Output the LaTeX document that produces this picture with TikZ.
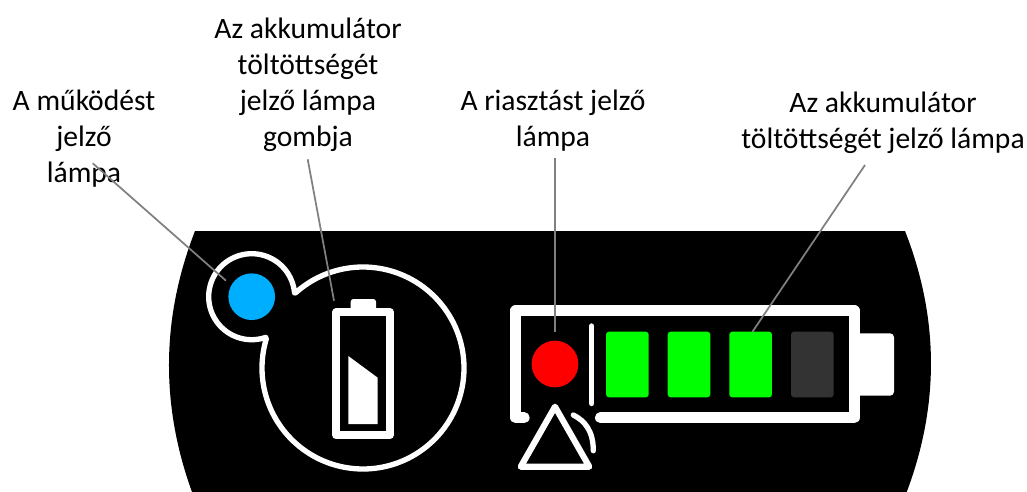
\documentclass[tikz,border=0pt]{standalone}
\usepackage{fontspec}
\setmainfont{Carlito}
\definecolor{leader}{HTML}{808080}
\definecolor{lampblue}{HTML}{00AEFF}
\definecolor{lampgreen}{HTML}{00FF00}
\definecolor{lampoff}{HTML}{333333}
\tikzset{
  lbl/.style={inner sep=0pt,outer sep=0pt,align=center,anchor=north,font=\fontsize{22.2}{27}\selectfont,text=black},
  leaderline/.style={draw=leader,line width=1.3pt},
  outline/.style={draw=white,line width=4pt,line cap=round,line join=round},
  seg/.style={rounded corners=2.2pt}
}
\begin{document}
\begin{tikzpicture}[x=.75pt,y=.75pt,yscale=-1]
\useasboundingbox (0,0) rectangle (1027,492);
\fill[white] (0,0) rectangle (1027,492);
% body
\fill[black] (195,231) .. controls (161.3,317.7) and (160.4,404.7) .. (192,492) -- (906.7,492)
  .. controls (939.6,404.7) and (939,317.7) .. (905,231) -- cycle;
% button outline
\draw[outline]
  plot[domain=-289:-5,samples=120] ({251.7+43*cos(\x)},{296.7+43*sin(\x)})
  -- plot[domain=-131.8:196.6,samples=200] ({363+101*cos(\x)},{368+101*sin(\x)}) -- cycle;
\node[circle,fill=lampblue,minimum size=35pt,inner sep=0pt] (blue) at (251.7,296.7) {};
% battery icon
\draw[outline,line width=5.8pt] (336.3,312) rectangle (389.7,435.3);
\fill[white,rounded corners=2pt] (350.7,312) -- (350.7,299) -- (376,299) -- (376,312) -- cycle;
\fill[white] (348.3,356) -- (377.7,377.7) -- (377.7,424) -- (348.3,424) -- cycle;
% big battery
\fill[white,rounded corners=3pt] (850,333.3) -- (894,333.3) -- (894,395.7) -- (850,395.7) -- cycle;
\draw[outline,line width=8pt] (524.3,417.7) -- (515.7,417.7) -- (515.7,310.7) -- (854.3,310.7) -- (854.3,417.7) -- (600.3,417.7);
\draw[outline] (591.7,326) -- (591.7,403.5);
\node[circle,fill=red,minimum size=35pt,inner sep=0pt] (red) at (555,364) {};
\fill[lampgreen,seg] (606,331.7) rectangle (648.7,397.3);
\fill[lampgreen,seg] (667.7,331.7) rectangle (710.3,397.3);
\node[fill=lampgreen,rounded corners=2.2pt,minimum width=32pt,minimum height=49.2pt,inner sep=0pt,outer sep=0pt] (green) at (750.65,364.5) {};
\fill[lampoff,seg] (791,331.7) rectangle (833.7,397.3);
% alarm triangle
\draw[outline,line width=4.6pt] (555,406.7) -- (589.3,466.7) -- (520.7,466.7) -- cycle;
\draw[outline] (573.3,415) .. controls (585,421) and (593.3,431) .. (593.3,450.7);
% labels
\node[lbl] (l1) at (84,90) {A működést\\jelző\\lámpa};
\node[lbl] (l2) at (308,18) {Az akkumulátor\\töltöttségét\\jelző lámpa\\gombja};
\node[lbl] (l3) at (553,90) {A riasztást jelző\\lámpa};
\node[lbl] (l4) at (883,92) {Az akkumulátor\\töltöttségét jelző lámpa};
% connectors
\coordinate (e1) at (92.7,163.3);
\coordinate (t1) at (226,280.7);
\coordinate (e2) at (307.7,159.3);
\coordinate (t2) at (334,300.7);
\coordinate (e3) at (555,158);
\coordinate (t3) at (555,332);
\coordinate (e4) at (865,165);
\coordinate (t4) at (752.3,332);
\draw[leaderline] (e1) -- (t1);
\draw[leaderline] (e2) -- (t2);
\draw[leaderline] (e3) -- (t3);
\draw[leaderline] (e4) -- (t4);
\end{tikzpicture}
\end{document}
